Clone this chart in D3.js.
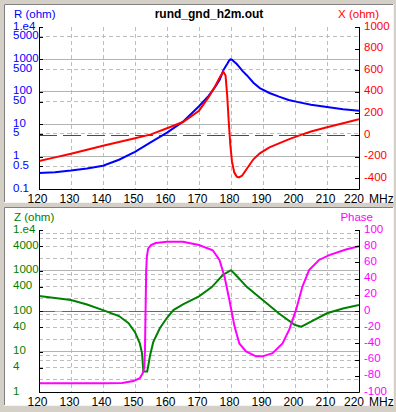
<!DOCTYPE html>
<html>
<head>
<meta charset="utf-8">
<script src="https://cdn.jsdelivr.net/npm/d3@7"></script>
<style>
  body { margin: 0; background: #d4d0c8; }
  svg { display: block; font-family: "Liberation Sans", Arial, sans-serif; font-size: 11.5px; }
</style>
</head>
<body>
<svg id="chart" width="396" height="412"></svg>
<script>
// upper panel: R and X against frequency (MHz)
const freqTop = [120, 125, 130, 135, 140, 145, 150, 155, 160, 165, 170, 173, 175, 176.5, 177.6,
  178.3, 178.8, 179.3, 179.8, 180.3, 181, 181.8, 182.5, 183.5, 185, 187, 189, 192, 195, 198,
  201, 205, 210, 215, 220];
const resistance = [0.31, 0.33, 0.37, 0.43, 0.52, 0.8, 1.4, 2.8, 5.5, 12, 36, 75, 140, 240, 460,
  600, 720, 880, 1000, 980, 850, 720, 600, 450, 320, 190, 130, 92, 71, 56,
  48, 40, 34, 29, 26];
const reactance = [-241, -207, -173, -136, -99, -65, -31, 6, 62, 120, 225, 350, 450, 535, 586,
  550, 370, 120, -95, -245, -345, -385, -392, -375, -310, -225, -170, -115, -78, -40,
  -8, 33, 72, 108, 145];

// lower panel: |Z| and phase
const freqZ = [120, 125, 130, 135, 140, 145, 148, 150, 151.5, 152.2, 152.6, 153.8, 154.2, 154.7,
  155.7, 157.8, 160, 162, 165, 170, 174, 177.5, 180, 182, 185, 190, 195, 200, 202, 205, 210, 215, 220];
const impedance = [234, 210, 186, 145, 105, 75, 50, 30, 16, 9, 3.2, 3.2, 4.7, 8,
  17, 38, 68, 105, 145, 230, 390, 780, 1020, 700, 390, 185, 87, 45, 41, 55, 88, 115, 141];
const freqPhase = [120, 140, 146, 149.5, 151.5, 152.4, 152.9, 153.1, 153.3, 153.5, 153.7, 154.1,
  155, 156.5, 160, 165, 170, 174.3, 176.4, 178, 179.5, 181.1, 182.6, 184.7, 187.8, 189.9,
  193, 196.1, 198.2, 200.3, 202.3, 204.4, 207.5, 210.7, 215.9, 220];
const phase = [-89.3, -89.3, -89, -86.5, -83, -77, -70, -50, 0, 50, 67, 77,
  81.5, 84, 85.5, 85.5, 81.5, 75, 63, 42, 13.6, -19, -40, -50, -56, -56,
  -52, -40, -23, 1, 30, 50.6, 63, 69, 76, 80];

const freqTicks = [120, 130, 140, 150, 160, 170, 180, 190, 200, 210, 220];
const rTicks = [1e4, 5000, 1000, 500, 100, 50, 10, 5, 1, 0.5, 0.1];
const rMajor = [1, 10, 100, 1000];
const rMinor = [0.5, 5, 50, 500, 5000];
const xTicks = [1000, 800, 600, 400, 200, 0, -200, -400];
const zTicks = [1e4, 4000, 1000, 400, 100, 40, 10, 4, 1];
const zMajor = [10, 100, 1000];
const zMinor = [1, 10, 100, 1000].flatMap(d => [2, 4, 6, 8].map(m => m * d));
const phaseTicks = [100, 80, 60, 40, 20, 0, -20, -40, -60, -80, -100];

const svg = d3.select("#chart");
const fmt = v => (v >= 1e4 ? "1.e4" : String(v));

const x = d3.scaleLinear().domain([120, 220]).range([39, 359]);

const drawPanel = (p) => {
  const g = svg.append("g");
  // sunken panel
  g.append("rect").attr("x", 4).attr("y", p.py0).attr("width", 389).attr("height", p.py1 - p.py0)
    .attr("fill", "#fff");
  g.append("path").attr("d", `M4.5,${p.py1}V${p.py0 + 0.5}H393`).attr("fill", "none").attr("stroke", "#808080");
  g.append("path").attr("d", `M4,${p.py1 - 0.5}H393.5V${p.py0}`).attr("fill", "none").attr("stroke", "#f4f4f4");

  const [yb, yt] = p.yL.range();
  const grid = g.append("g").attr("shape-rendering", "crispEdges");
  grid.selectAll(".vg").data(freqTicks.slice(1, -1)).join("line")
    .attr("x1", d => x(d)).attr("x2", d => x(d)).attr("y1", yt).attr("y2", yb)
    .attr("stroke", "#bdbdbd").attr("stroke-dasharray", "4,3");
  grid.selectAll(".hm").data(p.minor).join("line")
    .attr("x1", 39).attr("x2", 359).attr("y1", d => p.yL(d)).attr("y2", d => p.yL(d))
    .attr("stroke", "#bdbdbd").attr("stroke-dasharray", "4,3");
  grid.selectAll(".hM").data(p.major).join("line")
    .attr("x1", 39).attr("x2", 359).attr("y1", d => p.yL(d)).attr("y2", d => p.yL(d))
    .attr("stroke", "#b4b4b4");

  // zero line of the right-hand quantity
  g.append("line").attr("x1", 39).attr("x2", 359).attr("y1", p.yR(0)).attr("y2", p.yR(0))
    .attr("stroke", p.colR).attr("stroke-dasharray", p.zeroDash)
    .attr("stroke-dashoffset", p.zeroOffset).attr("shape-rendering", "crispEdges");

  const clipId = "clip" + p.py0;
  svg.append("clipPath").attr("id", clipId).append("rect")
    .attr("x", 39).attr("y", yt - 2).attr("width", 320).attr("height", yb - yt + 2);

  const lineL = d3.line().x((d, i) => x(p.fL[i])).y(d => p.yL(d));
  const lineR = d3.line().x((d, i) => x(p.fR[i])).y(d => p.yR(d));
  g.append("path").datum(p.vL).attr("d", lineL).attr("clip-path", `url(#${clipId})`)
    .attr("fill", "none").attr("stroke", p.colL).attr("stroke-width", 2);
  g.append("path").datum(p.vR).attr("d", lineR).attr("clip-path", `url(#${clipId})`)
    .attr("fill", "none").attr("stroke", p.colR).attr("stroke-width", 2);

  // axes
  g.append("path").attr("d", `M39.5,${yt}V${yb + 0.5}H359.5V${yt}`)
    .attr("fill", "none").attr("stroke", "#000");
  g.selectAll(".tl").data(p.ticksL).join("line")
    .attr("x1", 39).attr("x2", 43).attr("y1", d => Math.round(p.yL(d)) + 0.5).attr("y2", d => Math.round(p.yL(d)) + 0.5)
    .attr("stroke", "#000");
  g.selectAll(".tr").data(p.ticksR).join("line")
    .attr("x1", 355).attr("x2", 359).attr("y1", d => Math.round(p.yR(d)) + 0.5).attr("y2", d => Math.round(p.yR(d)) + 0.5)
    .attr("stroke", "#000");

  g.selectAll(".ll").data(p.ticksL).join("text")
    .attr("x", 13).attr("y", d => p.yL(d) - 1.5).attr("dy", "0.35em")
    .attr("fill", p.colL).text(fmt);
  g.selectAll(".lr").data(p.ticksR).join("text")
    .attr("x", 364).attr("y", d => p.yR(d) - 1.5).attr("dy", "0.35em")
    .attr("fill", p.colR).text(d => d);
  g.selectAll(".lx").data(freqTicks).join("text")
    .attr("x", d => x(d) - (d === 220 ? 5 : 1.5)).attr("y", yb + 10).attr("dy", "0.35em")
    .attr("text-anchor", "middle").attr("font-size", 12).text(d => d);
  g.append("text").attr("x", 369).attr("y", yb + 10).attr("dy", "0.35em")
    .attr("font-size", 12).text("MHz");

  g.append("text").attr("x", 14).attr("y", p.py0 + 10).attr("dy", "0.35em")
    .attr("fill", p.colL).text(p.nameL);
  g.append("text").attr("x", p.nameREnd).attr("y", p.py0 + 10).attr("dy", "0.35em")
    .attr("text-anchor", "end").attr("fill", p.colR).text(p.nameR);
  return g;
};

drawPanel({
  py0: 4, py1: 203,
  yL: d3.scaleLog().domain([0.1, 1e4]).range([189, 27]),
  yR: d3.scaleLinear().domain([-500, 1000]).range([189, 27]),
  major: rMajor, minor: rMinor, ticksL: rTicks, ticksR: xTicks,
  fL: freqTop, vL: resistance, fR: freqTop, vR: reactance,
  colL: "#0000ff", colR: "#ff0000",
  zeroDash: "18,6", zeroOffset: 0,
  nameL: "R (ohm)", nameR: "X (ohm)", nameREnd: 379
});

drawPanel({
  py0: 207, py1: 406,
  yL: d3.scaleLog().domain([1, 1e4]).range([392, 230]),
  yR: d3.scaleLinear().domain([-100, 100]).range([392, 230]),
  major: zMajor, minor: zMinor, ticksL: zTicks, ticksR: phaseTicks,
  fL: freqZ, vL: impedance, fR: freqPhase, vR: phase,
  colL: "#008000", colR: "#ff00ff",
  zeroDash: "60,7", zeroOffset: 44,
  nameL: "Z (ohm)", nameR: "Phase", nameREnd: 373
});

svg.append("text").attr("x", 209).attr("y", 14).attr("dy", "0.35em")
  .attr("text-anchor", "middle").attr("font-weight", "bold").attr("font-size", 12)
  .text("rund_gnd_h2m.out");
</script>
</body>
</html>
